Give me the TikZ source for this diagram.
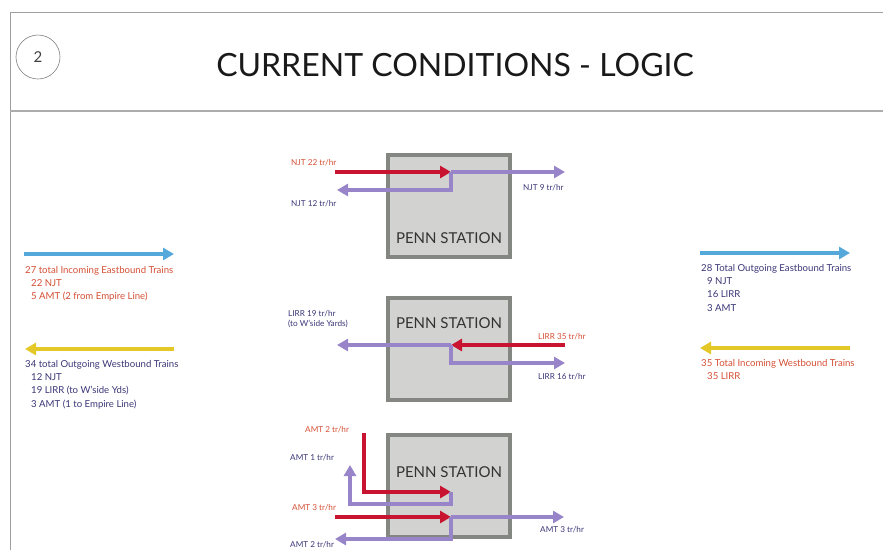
\documentclass[tikz,border=0pt]{standalone}
\usepackage{fontspec}
\setmainfont{Lato}
\usepackage{tikz}
\usetikzlibrary{positioning, arrows.meta, calc}
\definecolor{TrenRojo}{RGB}{200,20,48}
\definecolor{TrenMorado}{RGB}{152,132,200}
\definecolor{TrenAzul}{RGB}{85,168,218}
\definecolor{TrenAmarillo}{RGB}{228,200,40}
\definecolor{TxtRojo}{RGB}{212,78,52}
\definecolor{TxtAzul}{RGB}{58,54,118}
\definecolor{CajaGris}{RGB}{210,210,208}
\definecolor{BordeGris}{RGB}{132,134,130}

\begin{document}
\begin{tikzpicture}[x=1pt, y=-1pt,
  every node/.style={font=\small},
  station/.style={
    rectangle, draw=BordeGris, line width=4pt,
    fill=CajaGris, minimum width=122pt, minimum height=102pt
  },
  stname/.style={font=\fontsize{15}{18}\selectfont, text=black!80, inner sep=0pt},
  flow/.style={line width=4.5pt, -{Triangle[length=11pt, width=12pt]}},
  redflow/.style={flow, color=TrenRojo},
  purpleflow/.style={flow, color=TrenMorado},
  tag/.style={font=\fontsize{8.2}{10.5}\selectfont, inner sep=0pt, anchor=west, align=left},
  legend/.style={font=\fontsize{9.6}{13.3}\selectfont, inner sep=0pt,
    anchor=north west, align=left}
]
  \useasboundingbox (0,0) rectangle (883,550);

  % --- Marco y cabecera ---
  \draw[gray!75, line width=1pt] (10,550) -- (10,12) -- (883,12);
  \draw[gray!65, line width=2.5pt] (10,111) -- (883,111);
  \node[circle, draw=gray, line width=0.6pt, minimum size=44pt,
        font=\fontsize{15}{18}\selectfont, text=black!75] (num) at (38,57) {2};
  \node[font=\fontsize{32}{36}\selectfont, text=black!90] (titulo) at (455,65)
    {CURRENT CONDITIONS - LOGIC};

  % --- Estaciones ---
  \node[station]                      (pennA) at (449,206) {};
  \node[station, below=37pt of pennA] (pennB) {};
  \node[station, below=31pt of pennB] (pennC) {};
  \node[stname] (nameA) at ([yshift=21pt]pennA.south)  {PENN STATION};
  \node[stname] (nameB) at ([yshift=-27pt]pennB.north) {PENN STATION};
  \node[stname] (nameC) at ([yshift=-39pt]pennC.north) {PENN STATION};

  % --- Puntos de los flujos ---
  \coordinate (njtIn)   at (335,172);
  \coordinate (jA)      at (451,172);
  \coordinate (njtEast) at (565,172);
  \coordinate (njtWest) at (337,190);

  \coordinate (lirrIn)   at (565,345);
  \coordinate (jB)       at (451,345);
  \coordinate (lirrWest) at (337,345);
  \coordinate (lirrEast) at (565,363);

  \coordinate (amtTop)   at (364,433);
  \coordinate (jC)       at (451,492);
  \coordinate (amtUp)    at (350,465);
  \coordinate (amtIn)    at (335,517);
  \coordinate (jD)       at (451,517);
  \coordinate (amtEast)  at (564,517);
  \coordinate (amtWest)  at (335,539);

  % --- NJT ---
  \draw[redflow]    (njtIn) -- (jA);
  \draw[purpleflow] (jA) -- (njtEast);
  \draw[purpleflow] (jA) |- (njtWest);
  \node[tag, text=TxtRojo] (tNjt22) at (291,163) {NJT 22 tr/hr};
  \node[tag, text=TxtAzul] (tNjt12) at (291,204) {NJT 12 tr/hr};
  \node[tag, text=TxtAzul] (tNjt9)  at (523,188) {NJT 9 tr/hr};

  % --- LIRR ---
  \draw[redflow]    (lirrIn) -- (jB);
  \draw[purpleflow] (jB) -- (lirrWest);
  \draw[purpleflow] (jB) |- (lirrEast);
  \node[tag, text=TxtAzul] (tLirr19) at (288,319) {LIRR 19 tr/hr\\(to W'side Yards)};
  \node[tag, text=TxtRojo] (tLirr35) at (538,337) {LIRR 35 tr/hr};
  \node[tag, text=TxtAzul] (tLirr16) at (538,377) {LIRR 16 tr/hr};

  % --- AMT ---
  \draw[redflow]    (amtTop) |- (jC);
  \draw[purpleflow] (jC) |- ($(amtUp)+(0,39)$) -- (amtUp);
  \draw[redflow]    (amtIn) -- (jD);
  \draw[purpleflow] (jD) -- (amtEast);
  \draw[purpleflow] (jD) |- (amtWest);
  \node[tag, text=TxtRojo] (tAmt2)  at (305,430) {AMT 2 tr/hr};
  \node[tag, text=TxtAzul] (tAmt1)  at (290,458) {AMT 1 tr/hr};
  \node[tag, text=TxtRojo] (tAmt3)  at (292,508) {AMT 3 tr/hr};
  \node[tag, text=TxtAzul] (tAmt3b) at (540,530) {AMT 3 tr/hr};
  \node[tag, text=TxtAzul] (tAmt2b) at (290,545) {AMT 2 tr/hr};

  % --- Totales izquierda ---
  \coordinate (eastInA) at (24,254);
  \coordinate (eastInB) at (174,254);
  \coordinate (westOutA) at (174,349);
  \coordinate (westOutB) at (25,349);
  \draw[flow, color=TrenAzul]     (eastInA) -- (eastInB);
  \draw[flow, color=TrenAmarillo] (westOutA) -- (westOutB);
  \node[legend, text=TxtRojo] (totEastIn) at (25,266)
    {27 total Incoming Eastbound Trains\\
     \hspace*{6pt}22 NJT\\
     \hspace*{6pt}5 AMT (2 from Empire Line)};
  \node[legend, text=TxtAzul] (totWestOut) at (25,360)
    {34 total Outgoing Westbound Trains\\
     \hspace*{6pt}12 NJT\\
     \hspace*{6pt}19 LIRR (to W'side Yds)\\
     \hspace*{6pt}3 AMT (1 to Empire Line)};

  % --- Totales derecha ---
  \coordinate (eastOutA) at (700,253);
  \coordinate (eastOutB) at (850,253);
  \coordinate (westInA)  at (850,348);
  \coordinate (westInB)  at (700,348);
  \draw[flow, color=TrenAzul]     (eastOutA) -- (eastOutB);
  \draw[flow, color=TrenAmarillo] (westInA) -- (westInB);
  \node[legend, text=TxtAzul] (totEastOut) at (701,264)
    {28 Total Outgoing Eastbound Trains\\
     \hspace*{6pt}9 NJT\\
     \hspace*{6pt}16 LIRR\\
     \hspace*{6pt}3 AMT};
  \node[legend, text=TxtRojo] (totWestIn) at (701,359)
    {35 Total Incoming Westbound Trains\\
     \hspace*{6pt}35 LIRR};
\end{tikzpicture}
\end{document}
